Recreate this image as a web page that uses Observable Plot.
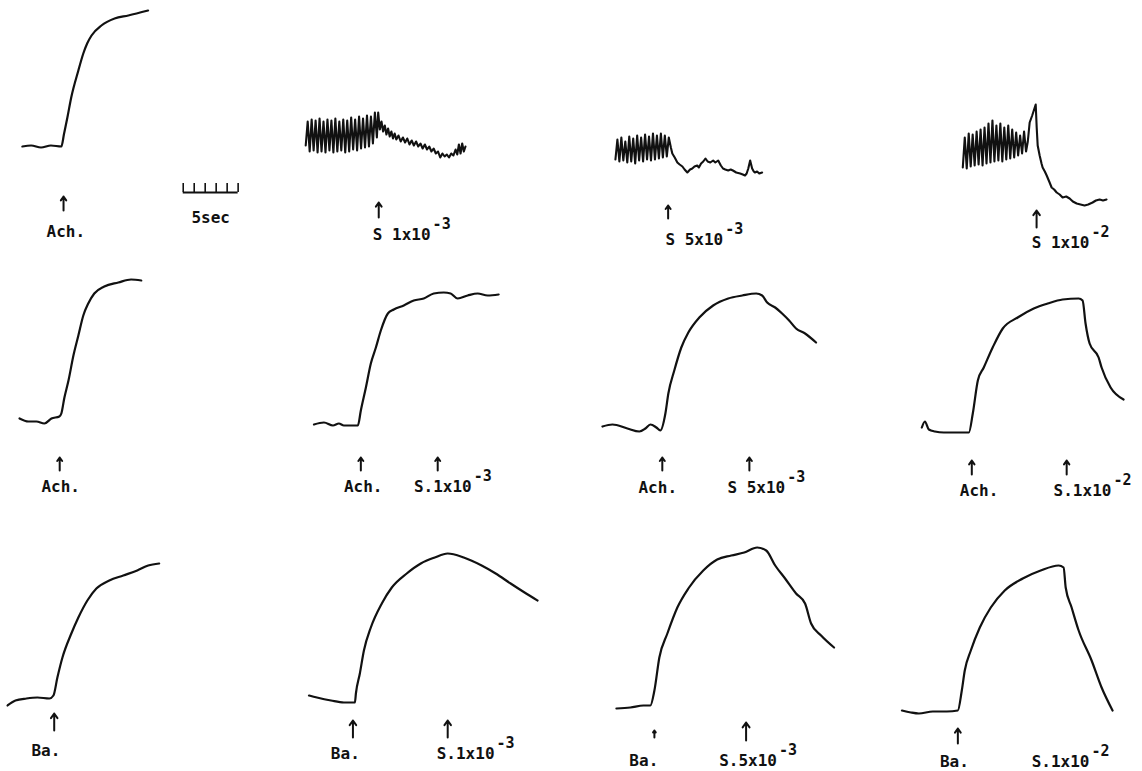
<!DOCTYPE html>
<html>
<head>
<meta charset="utf-8">
<script src="https://cdn.jsdelivr.net/npm/d3@7"></script>
<script src="https://cdn.jsdelivr.net/npm/@observablehq/plot@0.6"></script>
<style>
  html, body { margin: 0; padding: 0; background: #ffffff; }
  #chart { width: 1142px; height: 771px; }
</style>
</head>
<body>
<div id="chart"></div>
<script>
// Panel grid: 3 rows (spontaneous/Ach., Ach.+S, Ba.+S) x 4 columns (control, 1e-3, 5e-3, 1e-2)
const rowNames = ["spontaneous / Ach.", "Ach. + S", "Ba. + S"];
const colNames = ["control", "S 1x10^-3", "S 5x10^-3", "S 1x10^-2"];

// Each trace: [time (s) within the panel window, tension (arbitrary units)]
const trace_r0c0 = [[1.9,55.5],[2.7,56],[3.6,55],[4.5,56],[5.45,55.5],[5.7,62],[6.0,70],[6.35,80],[7.0,93.5],[7.45,102],[7.8,107],[8.2,111],[9.1,116],[10.3,119.5],[11.55,121],[13.35,123.5]];

const trace_r0c1 = [[1.75,56],[1.93,68],[2.11,53],[2.29,69],[2.47,53.5],[2.65,68.5],[2.83,52.5],[3.01,69.5],[3.19,53],[3.37,68],[3.55,52.5],[3.73,69],[3.91,53.5],[4.09,68.5],[4.27,52.5],[4.45,69.5],[4.63,53],[4.81,68],[4.99,53.5],[5.17,69],[5.35,52.5],[5.53,68.5],[5.71,53],[5.89,70],[6.07,54],[6.25,69],[6.43,53.5],[6.61,70.5],[6.79,54.5],[6.97,69.5],[7.15,55],[7.33,71],[7.51,55.5],[7.69,70.5],[7.87,57],[8.05,72.5],[8.23,60],
  [8.35,72.5],[8.5,64],[8.65,68],[8.8,63],[8.95,66],[9.1,61.5],[9.25,64.5],[9.4,60.5],[9.55,63],[9.7,59.5],[9.85,62],[10.0,59],[10.2,61],[10.4,58],[10.6,60],[10.8,57.5],[11.0,59.5],[11.2,56.5],[11.4,58.5],[11.6,56],[11.8,58],[12.0,55.5],[12.2,57],[12.4,54.5],[12.6,56.5],[12.8,54],[13.0,55.5],[13.2,53],[13.4,54.5],[13.6,52],[13.8,53],[14.0,50],[14.2,52],[14.4,50.5],[14.6,51.5],[14.8,50],[15.0,52],[15.2,51],[15.4,54],[15.55,51.5],[15.7,56.5],[15.85,52],[16.0,57],[16.15,53],[16.3,55.5]];

const trace_r0c2 = [[4.0,49],[4.18,59],[4.36,48],[4.54,60],[4.72,48.5],[4.9,58],[5.08,47.5],[5.26,60.5],[5.44,48],[5.62,59.5],[5.8,47],[5.98,61],[6.16,48.5],[6.34,60],[6.52,48],[6.7,61.5],[6.88,49],[7.06,60.5],[7.24,48.5],[7.42,62],[7.6,49],[7.78,61],[7.96,49.5],[8.14,62],[8.32,50],[8.5,61],[8.68,50.5],[8.86,60],
  [9.05,55],[9.18,52],[9.4,50],[9.64,47.5],[9.85,46.5],[10.1,45.5],[10.3,44],[10.55,42.5],[10.8,44],[11.0,44.5],[11.2,45.5],[11.45,46],[11.6,45],[11.8,47],[12.0,48],[12.2,49.5],[12.4,48],[12.64,47.5],[12.9,48.5],[13.1,47.5],[13.36,48.5],[13.6,46],[13.8,44.5],[14.0,44],[14.27,43.5],[14.5,44],[14.7,43.5],[15.0,42.5],[15.36,42],[15.6,41.5],[15.8,41],[15.95,42],[16.1,44.5],[16.27,48.5],[16.45,44.5],[16.6,43],[16.7,42.5],[16.9,43],[17.1,42],[17.36,42.5]];

const trace_r0c3 = [[9.68,45],[9.86,60],[10.04,44.5],[10.22,62],[10.4,45.5],[10.58,61.5],[10.76,46],[10.94,63],[11.12,46.5],[11.3,64],[11.48,46],[11.66,65],[11.84,47],[12.02,67],[12.2,47.5],[12.38,68.5],[12.56,48],[12.74,66],[12.92,48.5],[13.1,67],[13.28,48],[13.46,65],[13.64,49],[13.82,66],[14.0,49.5],[14.18,64],[14.36,50],[14.54,62.5],[14.72,51],[14.9,61],[15.08,52],[15.26,63],[15.44,53],[15.6,58],
  [15.77,67.5],[16.0,71],[16.32,76.5],[16.41,65],[16.5,56],[16.68,51],[16.85,47],[16.95,45],[17.15,43],[17.32,41],[17.55,38],[17.77,35],[18.0,34],[18.23,32.5],[18.5,31.5],[18.77,30],[19.1,30.5],[19.41,29.5],[19.7,28],[20.05,27],[20.4,26.5],[20.77,26],[21.1,26.5],[21.5,27.5],[21.8,28.5],[22.14,29],[22.45,28.5],[22.77,29]];

const trace_r1c0 = [[1.64,48],[2.45,46.5],[3.18,46.5],[3.9,45.5],[4.55,48],[5.27,49],[5.45,50.5],[5.73,58.5],[6.1,67],[6.55,79.5],[7.0,89.5],[7.45,99.5],[7.9,105.5],[8.45,110.5],[9.36,114],[10.64,116],[11.8,117.5],[12.73,117]];

const trace_r1c1 = [[2.5,45],[3.41,46],[4.23,44.5],[4.77,45.5],[5.23,44.5],[6.5,44.5],[6.77,52],[7.23,63.5],[7.68,75.5],[8.14,83.5],[8.59,92],[9.23,100.5],[9.77,102.5],[10.68,104.5],[11.59,107],[12.5,108],[13.41,110.5],[14.32,111],[14.95,110.5],[15.59,108],[16.5,109.5],[17.41,110.5],[18.32,109.5],[19.32,110]];

const trace_r1c2 = [[2.82,44],[3.73,45],[5.09,43],[6.18,41.5],[6.73,43],[7.18,45],[7.73,43.5],[8.09,42],[8.55,50.5],[8.82,60.5],[9.36,72],[10.0,83.5],[10.64,91],[11.64,98.5],[12.9,104.5],[14.27,108],[15.55,109.5],[16.82,110.5],[17.36,109.5],[17.82,106],[18.55,103.5],[19.18,100.5],[19.82,97],[20.45,93],[21.27,90.5],[22.27,86]];

const trace_r1c3 = [[5.95,43.5],[6.23,46.5],[6.59,42.5],[7.14,41.5],[7.95,41],[9.23,41],[10.23,41],[10.59,50.5],[11.05,67],[11.59,73.5],[12.4,83.5],[13.32,93],[14.68,98.5],[16.14,103],[17.41,105.5],[18.77,107.5],[20.23,108],[20.59,107],[20.86,95.5],[21.23,85.5],[22.05,78.5],[22.32,73.5],[23.14,63.5],[24.32,57.5]];

const trace_r2c0 = [[0.55,33],[1.27,35.5],[2.27,36.5],[3.27,37],[4.36,36.5],[4.73,38],[5.09,47],[5.55,57],[6.36,69],[7.0,77],[7.82,85.5],[8.64,91.5],[9.82,95.5],[11.09,98],[12.36,100.5],[13.36,103],[14.36,104]];

const trace_r2c1 = [[2.05,38],[2.77,37],[4.05,35.5],[5.23,34.5],[6.23,34.5],[6.32,39],[6.68,49],[7.05,60.5],[7.68,72],[8.68,84],[9.59,92],[10.95,99],[12.23,104],[13.5,107],[14.68,109],[16.14,107],[17.77,103],[19.05,99],[20.41,94],[21.68,89.5],[22.86,85.5]];

const trace_r2c2 = [[4.09,31.5],[5.36,32],[6.55,33],[7.18,33],[7.55,40.5],[8.0,57],[8.73,69],[9.64,82],[10.64,91.5],[12.0,100.5],[13.27,106],[14.55,108],[15.73,109.5],[16.91,112],[17.73,110.5],[18.55,103],[19.45,96.5],[20.45,89],[21.27,84],[21.82,74],[22.73,68],[23.91,62]];

const trace_r2c3 = [[4.14,30.5],[4.95,29.5],[5.68,29],[6.95,30],[8.23,30],[9.23,30.5],[9.59,40.5],[9.86,50.5],[10.41,60.5],[11.23,72],[12.23,82],[13.5,90.5],[15.14,96.5],[16.77,100.5],[18.41,103],[18.86,102],[19.05,92],[19.59,82],[20.23,70.5],[21.41,55.5],[22.32,42],[23.32,30.5]];

// smooth = slow contraction records; jagged = records with rapid spontaneous activity
const traces = [
  {row: 0, col: 0, smooth: true,  points: trace_r0c0}, {row: 0, col: 1, smooth: false, points: trace_r0c1},
  {row: 0, col: 2, smooth: false, points: trace_r0c2}, {row: 0, col: 3, smooth: false, points: trace_r0c3},
  {row: 1, col: 0, smooth: true,  points: trace_r1c0}, {row: 1, col: 1, smooth: true,  points: trace_r1c1},
  {row: 1, col: 2, smooth: true,  points: trace_r1c2}, {row: 1, col: 3, smooth: true,  points: trace_r1c3},
  {row: 2, col: 0, smooth: true,  points: trace_r2c0}, {row: 2, col: 1, smooth: true,  points: trace_r2c1},
  {row: 2, col: 2, smooth: true,  points: trace_r2c2}, {row: 2, col: 3, smooth: true,  points: trace_r2c3}
];

// Stimulus arrows: [row, col, time (s), tension bottom, tension top]
const arrowMarks = [
  [0,0,5.65,23.5,30.5],[0,1,8.4,20,27.5],[0,2,8.8,19.5,26],[0,3,16.4,15,23.5],
  [1,0,5.3,22,28.5],[1,1,6.77,22,28.5],[1,1,13.77,22,28.5],
  [1,2,8.27,22,28.5],[1,2,16.2,22,28.5],[1,3,10.5,20,27],[1,3,19.14,20,27],
  [2,0,4.8,20.5,29],[2,1,6.05,17,25.5],[2,1,14.68,17,25.5],
  [2,2,7.55,17,20.5],[2,2,15.9,15.5,24.5],[2,3,9.23,14,21.5]
];

// Labels: [row, col, time (s), tension baseline, text, exponent]
const labelTexts = [
  [0,0,4.1,10.5,"Ach.",""],
  [0,1,7.86,9,"S 1x10","-3"],
  [0,2,8.55,6.5,"S 5x10","-3"],
  [0,3,15.95,5,"S 1x10","-2"],
  [1,0,3.64,11.5,"Ach.",""],
  [1,1,5.23,11.5,"Ach.",""],[1,1,11.6,11.5,"S.1x10","-3"],
  [1,2,6.1,11,"Ach.",""],[1,2,14.2,11,"S 5x10","-3"],
  [1,3,9.41,9.5,"Ach.",""],[1,3,17.95,9.5,"S.1x10","-2"],
  [2,0,2.73,8,"Ba.",""],
  [2,1,4.04,6.5,"Ba.",""],[2,1,13.68,6.5,"S.1x10","-3"],
  [2,2,5.27,3,"Ba.",""],[2,2,13.45,3,"S.5x10","-3"],
  [2,3,7.6,2.5,"Ba.",""],[2,3,15.95,2.5,"S.1x10","-2"]
];

// 5-second time-scale bar (first panel): tick times (s) and levels
const scaleBarTicks = [16.55, 17.55, 18.55, 19.55, 20.55, 21.55];
const scaleBarLevel = 32.5;
const scaleBarTickTop = 37;
const scaleBarText = "5sec";

// ---- build tables ----
const toRows = (list) => list.flatMap((tr) =>
  tr.points.map(([t, v]) => ({id: tr.row * 4 + tr.col, row: tr.row, col: tr.col, t, v})));
const smoothData = toRows(traces.filter(d => d.smooth));
const jaggedData = toRows(traces.filter(d => !d.smooth));
const arrowData = arrowMarks.map(([row, col, t, v1, v2]) => ({row, col, t, v1, v2}));
const labelData = labelTexts.map(([row, col, t, v, text, exp]) => ({row, col, t, v, text, exp}));
const expData = labelData.filter(d => d.exp);
const barData = [{row: 0, col: 0, t1: scaleBarTicks[0], t2: scaleBarTicks[scaleBarTicks.length - 1], v: scaleBarLevel}];
const tickData = scaleBarTicks.map(t => ({row: 0, col: 0, t, v1: scaleBarLevel, v2: scaleBarTickTop}));
const barLabel = [{row: 0, col: 0, t: (scaleBarTicks[0] + scaleBarTicks[scaleBarTicks.length - 1]) / 2, v: 17.5, text: scaleBarText}];

const W = 1142, H = 771;
const secondsPerPanel = (W / 4) / 11;   // 11 px per second
const unitsPerPanel = (H / 3) / 2;      // 2 px per tension unit
const fontSize = 16;
const charW = 0.602 * fontSize;
const font = "DejaVu Sans Mono";
const ink = "#111";

const chart = Plot.plot({
  width: W,
  height: H,
  margin: 0,
  x: {domain: [0, secondsPerPanel], axis: null},
  y: {domain: [0, unitsPerPanel], axis: null},
  fx: {domain: [0, 1, 2, 3], padding: 0, axis: null},
  fy: {domain: [0, 1, 2], padding: 0, axis: null},
  style: {background: "#ffffff", color: ink},
  marks: [
    Plot.line(smoothData, {x: "t", y: "v", z: "id", fx: "col", fy: "row", curve: "monotone-x",
      stroke: ink, strokeWidth: 2.2, strokeLinejoin: "round", strokeLinecap: "round"}),
    Plot.line(jaggedData, {x: "t", y: "v", z: "id", fx: "col", fy: "row", curve: "linear",
      stroke: ink, strokeWidth: 2.1, strokeLinejoin: "round", strokeLinecap: "round"}),
    Plot.arrow(arrowData, {x1: "t", x2: "t", y1: "v1", y2: "v2", fx: "col", fy: "row",
      stroke: ink, strokeWidth: 2, headLength: 5, headAngle: 70}),
    Plot.ruleY(barData, {y: "v", x1: "t1", x2: "t2", fx: "col", fy: "row", stroke: ink, strokeWidth: 2}),
    Plot.ruleX(tickData, {x: "t", y1: "v1", y2: "v2", fx: "col", fy: "row", stroke: ink, strokeWidth: 1.6}),
    Plot.text(barLabel, {x: "t", y: "v", text: "text", fx: "col", fy: "row",
      fontFamily: font, fontSize: fontSize, fontWeight: "bold", lineAnchor: "bottom", fill: ink}),
    Plot.text(labelData, {x: "t", y: "v", text: "text", fx: "col", fy: "row",
      fontFamily: font, fontSize: fontSize, fontWeight: "bold", textAnchor: "start", lineAnchor: "bottom", fill: ink}),
    Plot.text(expData, {x: "t", y: "v", text: "exp", fx: "col", fy: "row",
      fontFamily: font, fontSize: fontSize - 1, fontWeight: "bold", textAnchor: "start", lineAnchor: "bottom",
      dx: 6 * charW + 2, dy: -11, fill: ink})
  ]
});
document.getElementById("chart").appendChild(chart);
</script>
</body>
</html>
